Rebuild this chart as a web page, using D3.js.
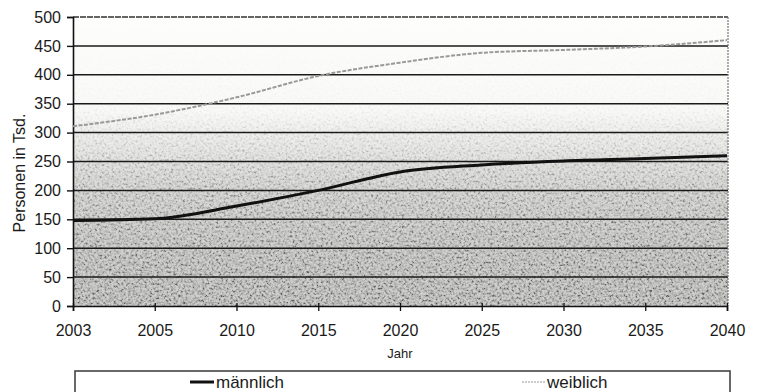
<!DOCTYPE html>
<html>
<head>
<meta charset="utf-8">
<script src="https://cdn.jsdelivr.net/npm/d3@7"></script>
<style>
  html, body { margin: 0; padding: 0; background: #fff; }
  svg { display: block; font-family: Arial, "Liberation Sans", sans-serif; }
</style>
</head>
<body>
<svg id="chart" width="762" height="392"></svg>
<script>
// Bevölkerungsprojektion nach Geschlecht (Personen in Tsd.)
const years = ["2003", "2005", "2010", "2015", "2020", "2025", "2030", "2035", "2040"];
const maennlich = [148, 151, 173, 200, 232, 244, 251, 255, 260];
const weiblich = [311, 331, 361, 398, 421, 438, 443, 449, 460];
const yTicks = [0, 50, 100, 150, 200, 250, 300, 350, 400, 450, 500];
const seriesNames = ["männlich", "weiblich"];

const svg = d3.select("#chart");
const plotLeft = 73, plotRight = 728, plotTop = 17, plotBottom = 306;
const plotW = plotRight - plotLeft, plotH = plotBottom - plotTop;

const x = d3.scalePoint().domain(years).range([plotLeft, plotRight - 1]).padding(0);
const y = d3.scaleLinear().domain([0, 500]).range([plotBottom, plotTop]);

const defs = svg.append("defs");

// base shading: white at the top, fading to grey toward the axis
const bg = defs.append("linearGradient").attr("id", "bgGrad")
  .attr("gradientUnits", "userSpaceOnUse")
  .attr("x1", 0).attr("y1", plotTop).attr("x2", 0).attr("y2", plotBottom);
[[0, "#fdfdfc"], [0.33, "#f9f9f7"], [0.45, "#e6e6e4"], [0.6, "#cacac8"], [0.8, "#b4b4b2"], [1, "#a6a6a4"]]
  .forEach(([o, c]) => bg.append("stop").attr("offset", o).attr("stop-color", c));

// grain mask follows the same vertical fade
const mg = defs.append("linearGradient").attr("id", "grainFade")
  .attr("gradientUnits", "userSpaceOnUse")
  .attr("x1", 0).attr("y1", plotTop).attr("x2", 0).attr("y2", plotBottom);
[[0, "#000"], [0.3, "#111"], [0.42, "#555"], [0.6, "#aaa"], [1, "#fff"]]
  .forEach(([o, c]) => mg.append("stop").attr("offset", o).attr("stop-color", c));
defs.append("mask").attr("id", "grainMask")
  .attr("maskUnits", "userSpaceOnUse")
  .attr("x", plotLeft).attr("y", plotTop).attr("width", plotW).attr("height", plotH)
  .append("rect")
  .attr("x", plotLeft).attr("y", plotTop).attr("width", plotW).attr("height", plotH)
  .attr("fill", "url(#grainFade)");

// speckle texture
const f = defs.append("filter").attr("id", "grain")
  .attr("filterUnits", "userSpaceOnUse")
  .attr("x", plotLeft).attr("y", plotTop).attr("width", plotW).attr("height", plotH);
f.append("feTurbulence").attr("type", "fractalNoise")
  .attr("baseFrequency", 0.42).attr("numOctaves", 2).attr("seed", 7).attr("result", "noise");
f.append("feColorMatrix").attr("in", "noise").attr("type", "matrix")
  .attr("values", "2.6 0 0 0 -0.65  2.6 0 0 0 -0.65  2.6 0 0 0 -0.65  0 0 0 0 1");

svg.append("rect")
  .attr("x", plotLeft).attr("y", plotTop).attr("width", plotW).attr("height", plotH)
  .attr("fill", "url(#bgGrad)");
svg.append("rect")
  .attr("x", plotLeft).attr("y", plotTop).attr("width", plotW).attr("height", plotH)
  .attr("filter", "url(#grain)")
  .attr("mask", "url(#grainMask)")
  .attr("opacity", 0.45);

// horizontal grid lines
svg.append("g").selectAll("line")
  .data(yTicks.filter(d => d > 0))
  .join("line")
  .attr("x1", plotLeft).attr("x2", plotRight)
  .attr("y1", d => y(d)).attr("y2", d => y(d))
  .attr("stroke", d => d === 500 ? "#333" : "#1a1a1a")
  .attr("stroke-width", 1.5)
  .attr("stroke-dasharray", d => d === 500 ? "6,1" : null);

// right frame edge
svg.append("line")
  .attr("x1", plotRight).attr("x2", plotRight).attr("y1", plotTop).attr("y2", plotBottom)
  .attr("stroke", "#777").attr("stroke-width", 1.2).attr("stroke-dasharray", "2,1");

// y axis
const yAxis = svg.append("g").attr("transform", `translate(${plotLeft},0)`)
  .call(d3.axisLeft(y).tickValues(yTicks).tickSize(6).tickPadding(6));
yAxis.select(".domain").attr("stroke", "#111").attr("stroke-width", 1.6);
yAxis.selectAll(".tick line").attr("stroke", "#111").attr("stroke-width", 1.4);
yAxis.selectAll(".tick text")
  .attr("font-size", 16).attr("fill", "#1a1a1a")
  .attr("font-family", "Arial, 'Liberation Sans', sans-serif");

// x axis
const xAxis = svg.append("g").attr("transform", `translate(0,${plotBottom})`)
  .call(d3.axisBottom(x).tickSize(5).tickPadding(14));
xAxis.select(".domain").attr("stroke", "#111").attr("stroke-width", 1.6);
xAxis.selectAll(".tick line").attr("y1", -3).attr("stroke", "#111").attr("stroke-width", 1.3);
xAxis.selectAll(".tick text")
  .attr("font-size", 16).attr("fill", "#1a1a1a")
  .attr("font-family", "Arial, 'Liberation Sans', sans-serif");

// axis titles
svg.append("text")
  .attr("transform", "translate(25,173) rotate(-90)")
  .attr("text-anchor", "middle")
  .attr("font-size", 16).attr("fill", "#1a1a1a")
  .text("Personen in Tsd.");
svg.append("text")
  .attr("x", 400).attr("y", 358)
  .attr("text-anchor", "middle")
  .attr("font-size", 13).attr("fill", "#1a1a1a")
  .text("Jahr");

// series lines
const line = d3.line()
  .x((d, i) => x(years[i]))
  .y(d => y(d))
  .curve(d3.curveMonotoneX);

svg.append("path")
  .datum(weiblich)
  .attr("d", line)
  .attr("fill", "none")
  .attr("stroke", "#999")
  .attr("stroke-width", 2)
  .attr("stroke-dasharray", "4,1.5");

svg.append("path")
  .datum(maennlich)
  .attr("d", line)
  .attr("fill", "none")
  .attr("stroke", "#111")
  .attr("stroke-width", 3);

// legend
const legend = svg.append("g");
legend.append("rect")
  .attr("x", 75).attr("y", 371).attr("width", 655).attr("height", 40)
  .attr("fill", "#fff").attr("stroke", "#444").attr("stroke-width", 1.6);

const legendItems = [
  { name: seriesNames[0], lx: 190, tx: 216, stroke: "#111", w: 3, dash: null },
  { name: seriesNames[1], lx: 522, tx: 547, stroke: "#999", w: 1.2, dash: "2,1" }
];
legendItems.forEach(it => {
  legend.append("line")
    .attr("x1", it.lx).attr("x2", it.lx + 24).attr("y1", 382).attr("y2", 382)
    .attr("stroke", it.stroke).attr("stroke-width", it.w)
    .attr("stroke-dasharray", it.dash);
  legend.append("text")
    .attr("x", it.tx).attr("y", 388)
    .attr("font-size", 17).attr("fill", "#1a1a1a")
    .text(it.name);
});
</script>
</body>
</html>
